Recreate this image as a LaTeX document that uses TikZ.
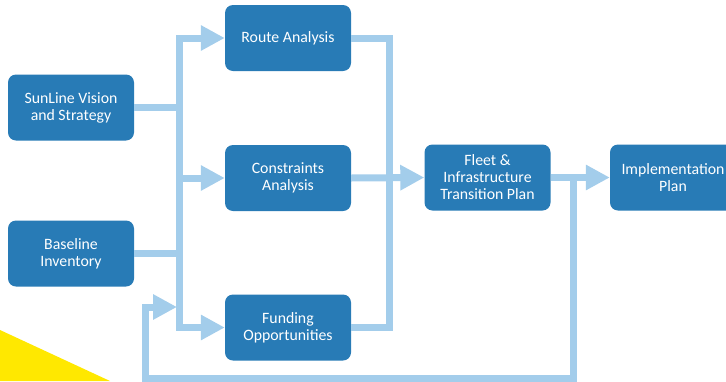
\documentclass[tikz,border=0pt]{standalone}
\usepackage{fontspec}
\setmainfont{Carlito}
\usetikzlibrary{arrows.meta}
\definecolor{boxblue}{HTML}{287BB6}
\definecolor{linkblue}{HTML}{A3CDEB}
\definecolor{sunyellow}{HTML}{FFE800}

\begin{document}
\begin{tikzpicture}[x=1pt, y=-1pt,
    step box/.style={draw=none, fill=boxblue, text=white, rounded corners=8pt,
      minimum width=126pt, minimum height=66pt, align=center,
      font=\fontsize{15.8}{17}\selectfont},
    link/.style={draw=linkblue, line width=7pt},
    arr/.style={link, -{Triangle[length=24pt, width=24pt]}}]
        \useasboundingbox (0,0) rectangle (726,381);
        \clip (0,0) rectangle (726,381);
        \fill[sunyellow] (0,330) -- (110,381) -- (0,381) -- cycle;

        \node[step box] (sv) at (71,107.5) {SunLine Vision\\and Strategy};
        \node[step box] (bi) at (71,253.5) {Baseline\\Inventory};
        \node[step box] (ra) at (288,38) {Route Analysis};
        \node[step box] (ca) at (288,178) {Constraints\\Analysis};
        \node[step box] (fo) at (288,327.5) {Funding\\Opportunities};
        \node[step box] (fl) at (487.5,177.5) {Fleet \&\\Infrastructure\\Transition Plan};
        \node[step box] (im) at (673,177.5) {Implementation\\Plan};

        \coordinate (jtop) at (179,38);
        \coordinate (jbot) at (179,327.5);
        \coordinate (rbus) at (389,178);
        \coordinate (fb) at (573,178);
        \coordinate (fbleft) at (145,378);
        \coordinate (fbin) at (177,307);

        \draw[link] (sv.east) -- (sv.east -| jtop);
        \draw[link] (bi.east) -- (bi.east -| jtop);
        \draw[arr] (jbot) -- (jtop) -- (ra.west);
        \draw[arr] (jtop) -- (jbot) -- (fo.west);
        \draw[arr] (jtop |- ca.west) -- (ca.west);

        \draw[link] (ra.east) -| (rbus) |- (fo.east);
        \draw[arr] (ca.east) -- (fl.west);
        \draw[arr] (fl.east) -- (im.west);
        \draw[arr] (fb) |- (fbleft) |- (fbin);
      \end{tikzpicture}
\end{document}
